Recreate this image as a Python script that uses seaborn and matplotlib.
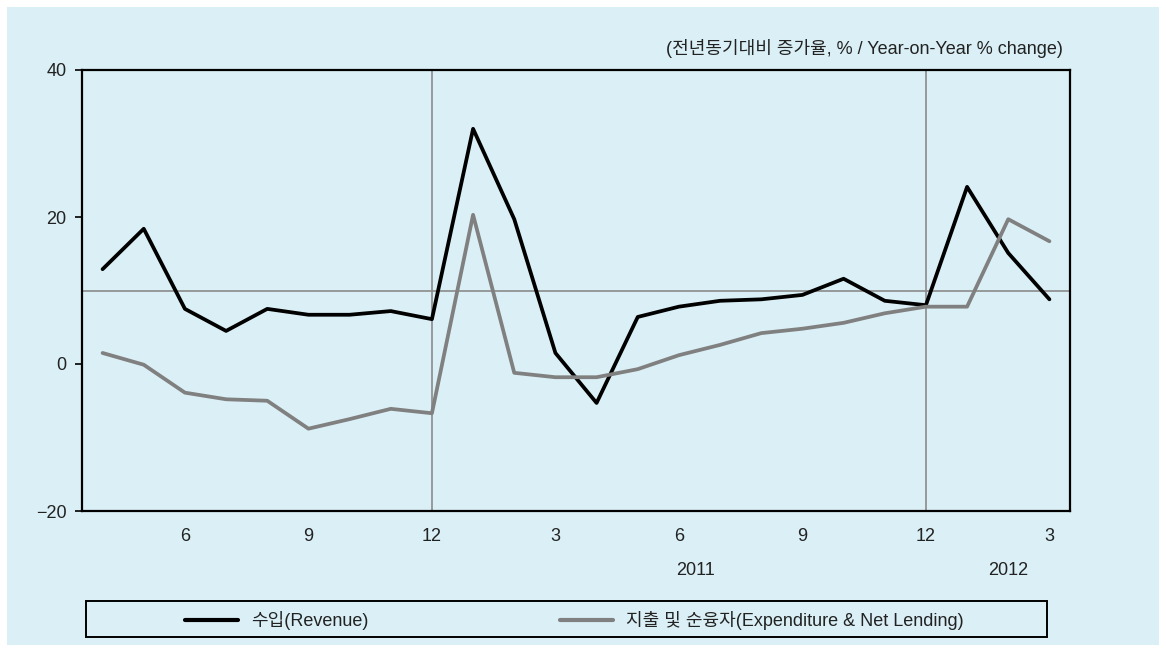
import numpy as np
import pandas as pd
import matplotlib
matplotlib.use("Agg")
import matplotlib.pyplot as plt
from matplotlib.patches import Rectangle
import seaborn as sns

# ---- data ----
months = [4, 5, 6, 7, 8, 9, 10, 11, 12, 1, 2, 3, 4, 5, 6, 7, 8, 9, 10, 11, 12, 1, 2, 3]
years = [2010] * 9 + [2011] * 12 + [2012] * 3
revenue = [12.9, 18.4, 7.5, 4.5, 7.5, 6.7, 6.7, 7.2, 6.1, 32.0, 19.7, 1.5, -5.3,
           6.4, 7.8, 8.6, 8.8, 9.4, 11.6, 8.6, 8.0, 24.1, 15.1, 8.8]
expenditure = [1.5, -0.1, -3.9, -4.8, -5.0, -8.8, -7.5, -6.1, -6.7, 20.3, -1.2, -1.8,
               -1.8, -0.7, 1.2, 2.6, 4.2, 4.8, 5.6, 6.9, 7.8, 7.8, 19.7, 16.7]
series_names = ["수입(Revenue)", "지출 및 순융자(Expenditure & Net Lending)"]
tick_labels = ["6", "9", "12", "3", "6", "9", "12", "3"]
tick_pos = [2, 5, 8, 11, 14, 17, 20, 23]
year_labels = ["2011", "2012"]
year_pos = [14.4, 22.0]
ref_level = 10
y_ticks = [-20, 0, 20, 40]
unit_text = "(전년동기대비 증가율, % / Year-on-Year % change)"

idx = np.arange(len(months))
df = pd.DataFrame({
    "t": np.concatenate([idx, idx]),
    "value": revenue + expenditure,
    "series": [series_names[0]] * len(idx) + [series_names[1]] * len(idx),
})

sns.set_style("white")
plt.rcParams["font.family"] = ["Liberation Sans", "Noto Sans CJK KR", "DejaVu Sans"]

BG = "#daf0f6"
fig = plt.figure(figsize=(11.66, 6.52), dpi=100, facecolor="white")
W, H = 1166, 652
fig.patches.append(Rectangle((7 / W, 7 / H), (1159 - 7) / W, (645 - 7) / H,
                             transform=fig.transFigure, facecolor=BG,
                             edgecolor="none", zorder=-10))
ax = fig.add_axes([82 / W, 1 - 511 / H, (1070 - 82) / W, (511 - 70) / H])
ax.set_facecolor(BG)

sns.lineplot(data=df, x="t", y="value", hue="series",
             palette={series_names[0]: "black", series_names[1]: "#808080"},
             linewidth=2.7, ax=ax, legend=False, zorder=3)

ax.axhline(ref_level, color="#8a8a8a", lw=1.2, zorder=2)
ax.axvline(8, color="#8a8a8a", lw=1.2, zorder=2)
ax.axvline(20, color="#8a8a8a", lw=1.2, zorder=2)

ax.set_xlim(-0.5, 23.5)
ax.set_ylim(-20, 40)
ax.set_yticks(y_ticks)
ax.set_yticklabels(["\u221220", "0", "20", "40"])
ax.set_xticks(tick_pos)
ax.set_xticklabels(tick_labels)
ax.tick_params(axis="y", length=5, width=1.2, pad=6, labelsize=13, colors="black",
               direction="out", left=True)
ax.tick_params(axis="x", length=0, pad=12, labelsize=13, colors="black")
for t in ax.get_xticklabels() + ax.get_yticklabels():
    t.set_color("#222222")
ax.set_xlabel("")
ax.set_ylabel("")
for s in ax.spines.values():
    s.set_color("black")
    s.set_linewidth(1.6)

for lab, p in zip(year_labels, year_pos):
    ax.text(p, -0.135, lab, transform=ax.get_xaxis_transform(), ha="center",
            va="center", fontsize=13, color="#222222")

fig.text(1063 / W, 1 - 48 / H, unit_text, ha="right", va="center",
         fontsize=13, color="#222222")

# legend
fig.patches.append(Rectangle((86 / W, 1 - 637 / H), (1047 - 86) / W, 36 / H,
                             transform=fig.transFigure, facecolor=BG,
                             edgecolor="black", lw=1.4, zorder=5))
handles = [plt.Line2D([], [], color="black", lw=3.0),
           plt.Line2D([], [], color="#808080", lw=3.0)]
leg = fig.legend(handles, series_names, loc="center",
                 bbox_to_anchor=(574.5 / W, 1 - 621 / H), ncol=2, frameon=False,
                 fontsize=13, handlelength=2.95, handletextpad=0.72,
                 columnspacing=10.6, borderpad=0, borderaxespad=0)
leg.set_zorder(6)
for t in leg.get_texts():
    t.set_color("#222222")

fig.savefig("out.png", dpi=100, facecolor="white")
